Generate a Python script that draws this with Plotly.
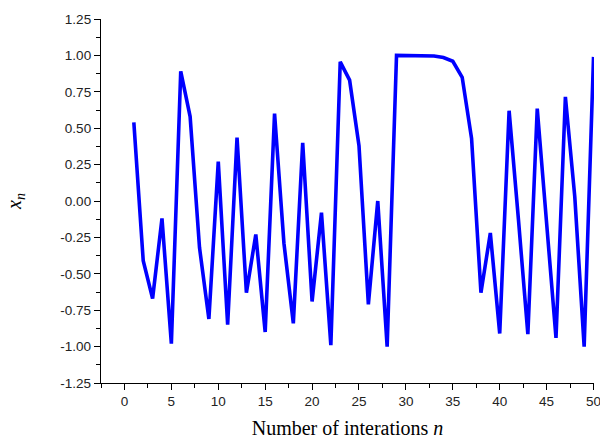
import plotly.graph_objects as go

n_values = list(range(1, 51))
x_values = [
    0.54, -0.41, -0.67, -0.12, -0.98, 0.89, 0.58, -0.32, -0.81, 0.27,
    -0.85, 0.435, -0.63, -0.23, -0.90, 0.60, -0.29, -0.84, 0.40, -0.69,
    -0.08, -0.99, 0.956, 0.83, 0.38, -0.71, 0.00, -1.00, 1.00, 1.00,
    1.00, 0.999, 0.996, 0.985, 0.96, 0.85, 0.43, -0.63, -0.22, -0.91,
    0.62, -0.13, -0.915, 0.635, -0.16, -0.94, 0.715, 0.03, -1.00, 0.99,
]
x_tick_vals = [0, 5, 10, 15, 20, 25, 30, 35, 40, 45, 50]
y_tick_vals = [1.25, 1.00, 0.75, 0.50, 0.25, 0.00, -0.25, -0.50, -0.75, -1.00, -1.25]
y_tick_text = ["%.2f" % v for v in y_tick_vals]

fig = go.Figure()
fig.add_trace(go.Scatter(
    x=n_values, y=x_values, mode="lines",
    line=dict(color="#0000FF", width=3.6),
    showlegend=False,
))

tick_font = dict(family="Liberation Sans, Arial, sans-serif", size=13.5, color="#222222")
title_font = dict(family="Liberation Serif, Times New Roman, serif", size=20, color="#000000")

fig.update_layout(
    width=600, height=443,
    margin=dict(l=101, r=6, t=19, b=60),
    paper_bgcolor="white", plot_bgcolor="white",
    xaxis=dict(
        range=[-2.5, 50.05], tickmode="array", tickvals=x_tick_vals,
        ticks="outside", ticklen=6, tickwidth=1.3, tickcolor="#000000",
        showline=True, linecolor="#000000", linewidth=1.3,
        showgrid=False, zeroline=False, tickfont=tick_font,
        ticklabeloverflow="allow",
        minor=dict(tickmode="array", tickvals=[v + 2.5 for v in x_tick_vals[:-1]] + [-2.5],
                   ticks="outside", ticklen=4, tickwidth=1.3, tickcolor="#000000", showgrid=False),
        title=dict(text="Number of interations <i>n</i>", font=title_font, standoff=12),
        automargin=False,
    ),
    yaxis=dict(
        range=[-1.25, 1.25], tickmode="array", tickvals=y_tick_vals, ticktext=y_tick_text,
        ticks="outside", ticklen=6, tickwidth=1.3, tickcolor="#000000",
        showline=True, linecolor="#000000", linewidth=1.3,
        showgrid=False, zeroline=False, tickfont=tick_font,
        ticklabeloverflow="allow",
        minor=dict(tickmode="array", tickvals=[v - 0.125 for v in y_tick_vals[:-1]],
                   ticks="outside", ticklen=4, tickwidth=1.3, tickcolor="#000000", showgrid=False),
        title=dict(text="<i>x</i><sub><i>n</i></sub>", font=title_font, standoff=33),
        automargin=False,
    ),
)

fig.write_html(
    "out.html",
    config={"displayModeBar": False},
    post_script="document.body.style.margin='0';document.body.style.overflow='hidden';",
)
